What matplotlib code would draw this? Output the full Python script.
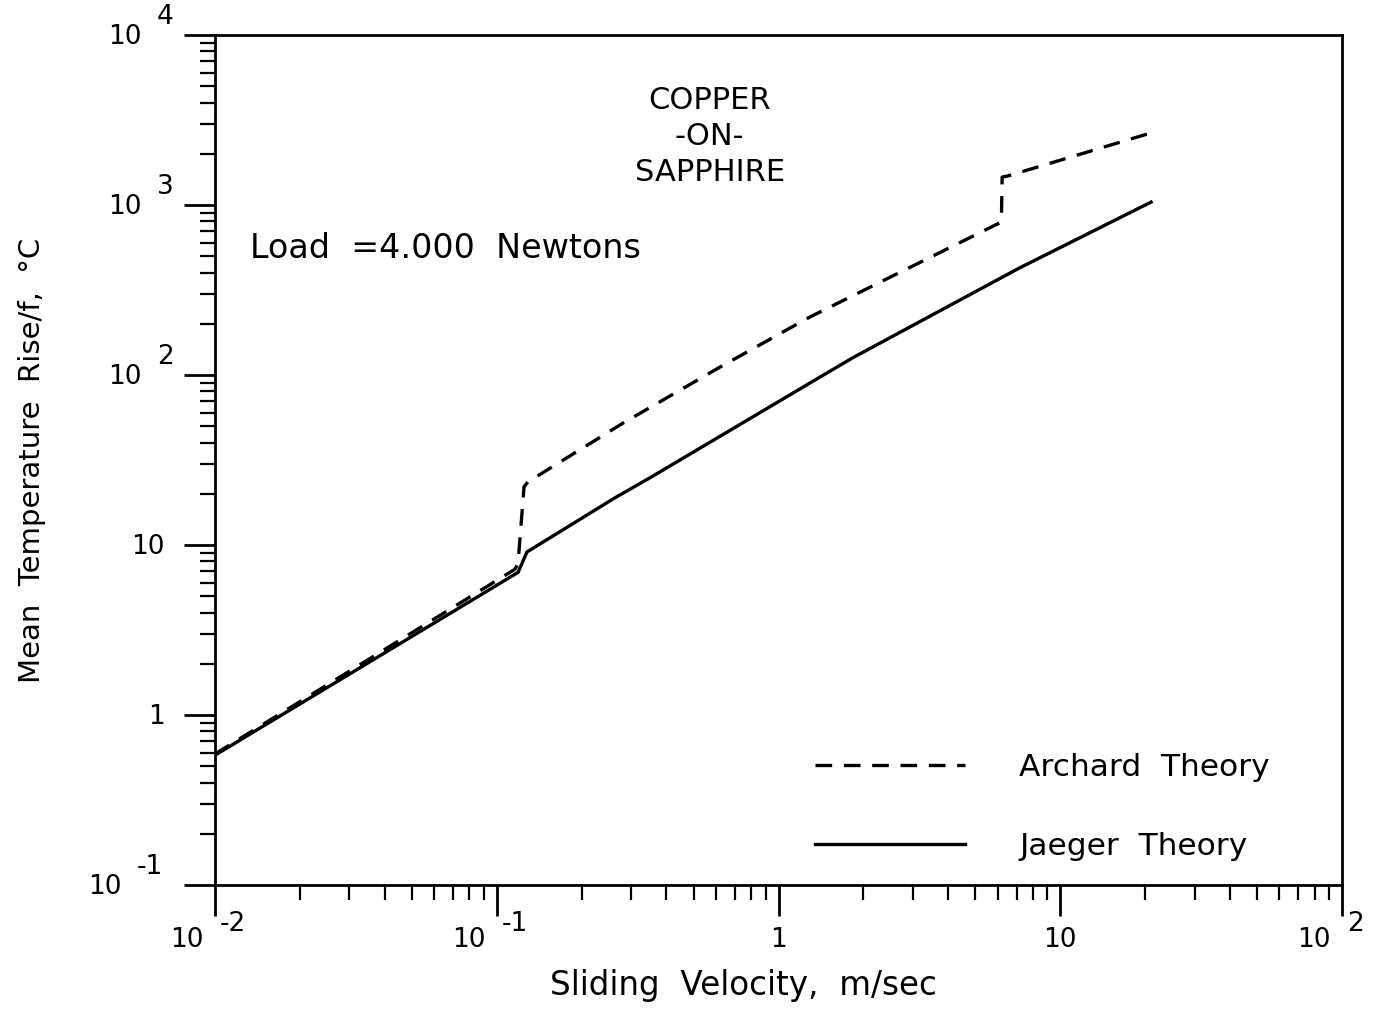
"""Mean temperature rise vs sliding velocity, copper-on-sapphire (Archard vs Jaeger)."""

import matplotlib
matplotlib.use("Agg")
import matplotlib.pyplot as plt
from matplotlib.lines import Line2D

# Jaeger theory (solid line)
jaeger_v = [0.01, 0.119, 0.128, 0.262, 0.349, 1.40, 1.83, 7.16, 21.0]
jaeger_t = [0.58, 6.9, 9.1, 18.9, 24.8, 97.0, 126.0, 426.0, 1040.0]

# Archard theory (dashed line)
archard_v = [0.01, 0.116, 0.119, 0.125, 0.129, 0.280, 0.618, 1.29, 6.18, 6.22, 6.5, 21.0]
archard_t = [0.59, 7.2, 7.8, 22.0, 23.5, 52.0, 111.0, 219.0, 794.0, 1460.0, 1480.0, 2655.0]

# tick labels: base + superscript exponent drawn apart, like the plotter output
y_ticks = [0.1, 1, 10, 100, 1000, 10000]
y_bases = ["10", "1", "10", "10", "10", "10"]
y_exps = ["-1", "", "", "2", "3", "4"]

x_ticks = [0.01, 0.1, 1, 10, 100]
x_bases = ["10", "10", "1", "10", "10"]
x_exps = ["-2", "-1", "", "", "2"]

TICK_FS = 19
LW = 2.4


def main():
    fig = plt.figure(figsize=(13.79, 10.13), dpi=100)
    ax = fig.add_axes([215 / 1379, 1 - 885 / 1013, 1127 / 1379, 850 / 1013])

    ax.plot(archard_v, archard_t, color="black", lw=LW, dashes=(5, 3.5))
    ax.plot(jaeger_v, jaeger_t, color="black", lw=LW)

    ax.set_xscale("log")
    ax.set_yscale("log")
    ax.set_xlim(0.01, 100)
    ax.set_ylim(0.1, 10000)

    for s in ax.spines.values():
        s.set_linewidth(2)
    ax.tick_params(which="major", direction="out", length=22, width=2,
                   labelbottom=False, labelleft=False)
    ax.tick_params(which="minor", direction="out", length=11, width=1.6,
                   labelbottom=False, labelleft=False)

    # y tick labels
    for val, base, exp in zip(y_ticks, y_bases, y_exps):
        if exp:
            dx = -93 if exp.startswith("-") else -73
            ax.annotate(base, xy=(0, val), xycoords=("axes fraction", "data"),
                        xytext=(dx, -2), textcoords="offset pixels",
                        ha="right", va="center", fontsize=TICK_FS)
            ax.annotate(exp, xy=(0, val), xycoords=("axes fraction", "data"),
                        xytext=(dx + 15, 18), textcoords="offset pixels",
                        ha="left", va="center", fontsize=TICK_FS)
        else:
            ax.annotate(base, xy=(0, val), xycoords=("axes fraction", "data"),
                        xytext=(-50, -2), textcoords="offset pixels",
                        ha="right", va="center", fontsize=TICK_FS)

    # x tick labels
    for val, base, exp in zip(x_ticks, x_bases, x_exps):
        if exp:
            ax.annotate(base, xy=(val, 0), xycoords=("data", "axes fraction"),
                        xytext=(-11, -55), textcoords="offset pixels",
                        ha="right", va="center", fontsize=TICK_FS)
            ax.annotate(exp, xy=(val, 0), xycoords=("data", "axes fraction"),
                        xytext=(5, -39), textcoords="offset pixels",
                        ha="left", va="center", fontsize=TICK_FS)
        else:
            ax.annotate(base, xy=(val, 0), xycoords=("data", "axes fraction"),
                        xytext=(0, -55), textcoords="offset pixels",
                        ha="center", va="center", fontsize=TICK_FS)

    ax.set_xlabel("Sliding  Velocity,  m/sec", fontsize=23.5, va="center")
    ax.xaxis.set_label_coords(0.469, -0.118)
    ax.set_ylabel("Mean  Temperature  Rise/f,  °C", fontsize=21, va="center")
    ax.yaxis.set_label_coords(-0.162, 0.5)

    for txt, yy in [("COPPER", 0.9235), ("-ON-", 0.880), ("SAPPHIRE", 0.838)]:
        ax.text(0.439, yy, txt, transform=ax.transAxes, ha="center", va="center",
                fontsize=22)
    ax.text(0.031, 0.749, "Load  =4.000  Newtons", transform=ax.transAxes,
            ha="left", va="center", fontsize=24)

    handles = [
        Line2D([], [], color="black", lw=LW, dashes=(5, 3.5)),
        Line2D([], [], color="black", lw=LW),
    ]
    ax.legend(handles, ["Archard  Theory", "Jaeger  Theory"], loc="upper left",
              bbox_to_anchor=(0.532, 0.155), frameon=False, fontsize=22.5,
              handlelength=4.8, handletextpad=1.75, labelspacing=1.6,
              borderpad=0, borderaxespad=0)

    plt.savefig("out.png", dpi=100)
    plt.close()


if __name__ == "__main__":
    main()
